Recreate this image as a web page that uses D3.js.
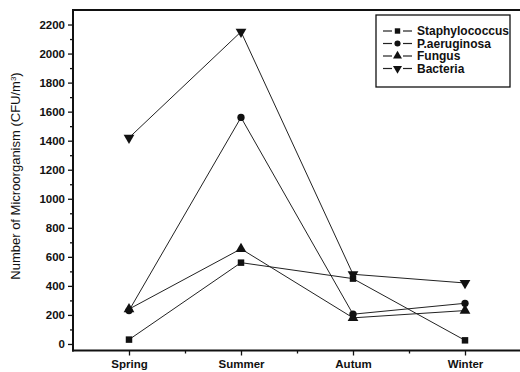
<!DOCTYPE html>
<html><head><meta charset="utf-8">
<script src="https://cdn.jsdelivr.net/npm/d3@7/dist/d3.min.js"></script>
<style>body{margin:0;background:#fff}svg{display:block}text{font-family:Arial,"Liberation Sans",sans-serif;fill:#111}</style>
</head><body><svg id="c" width="520" height="372"></svg>
<script>
const categories = ["Spring","Summer","Autum","Winter"];
const seriesNames = ["Staphylococcus","P.aeruginosa","Fungus","Bacteria"];
const staphylococcus = [30, 560, 450, 25];
const paeruginosa = [230, 1560, 205, 280];
const fungus = [240, 655, 180, 230];
const bacteria = [1420, 2150, 480, 420];
const yTicks = [0,200,400,600,800,1000,1200,1400,1600,1800,2000,2200];
const seriesValues = [staphylococcus, paeruginosa, fungus, bacteria];
const symbols = [d3.symbolSquare, d3.symbolCircle, d3.symbolTriangle, d3.symbolTriangle];
const symSize = [42, 42, 50, 50];
const rot = [0,0,0,180];

const svg = d3.select("#c");
const L=73, R=521, T=10, B=350.5;
const x = d3.scaleLinear().domain([-0.5,3.5]).range([L,R]);
const y = d3.scaleLinear().domain([-45,2300]).range([B,T]);

svg.append("line").attr("x1",L).attr("x2",520).attr("y1",T).attr("y2",T).attr("stroke","#111").attr("stroke-width",2);

const ya = svg.append("g").attr("transform",`translate(${L},0)`);
ya.call(d3.axisLeft(y).tickValues(yTicks).tickSize(5).tickPadding(3).tickFormat(d3.format("d")));
ya.append("g").call(d3.axisLeft(y).tickValues(d3.range(100,2300,200)).tickSize(3).tickFormat(""));
ya.selectAll(".domain").remove();
ya.append("line").attr("x1",0).attr("x2",0).attr("y1",T-1).attr("y2",B+1).attr("stroke","#111").attr("stroke-width",2);
ya.selectAll("line").attr("stroke","#111");
ya.selectAll(".tick line").attr("stroke-width",1.3);
ya.selectAll("text").style("font-size","11.5px").style("font-weight","bold").attr("fill","#222");

const xa = svg.append("g").attr("transform",`translate(0,${B})`);
xa.call(d3.axisBottom(x).tickValues([0,1,2,3]).tickSize(5).tickPadding(4).tickFormat(i=>categories[i]));
xa.append("g").call(d3.axisBottom(x).tickValues([0.5,1.5,2.5]).tickSize(3).tickFormat(""));
xa.selectAll(".domain").remove();
xa.append("line").attr("x1",L-1).attr("x2",520).attr("y1",0).attr("y2",0).attr("stroke","#111").attr("stroke-width",2);
xa.selectAll(".tick line").attr("stroke","#111").attr("stroke-width",1.3);
xa.selectAll("text").style("font-size","11.5px").style("font-weight","bold").attr("fill","#222");

svg.append("text").attr("transform","translate(20,176) rotate(-90)").attr("text-anchor","middle")
  .style("font-size","13px").attr("fill","#222")
  .html('Number of Microorganism (CFU/m<tspan baseline-shift="super" font-size="8px">3</tspan>)');

const line = d3.line().x((d,i)=>x(i)).y(d=>y(d));
seriesValues.forEach((vals,s)=>{
  svg.append("path").datum(vals).attr("d",line).attr("fill","none").attr("stroke","#222").attr("stroke-width",1);
});
seriesValues.forEach((vals,s)=>{
  svg.selectAll(null).data(vals).enter().append("path")
    .attr("d",d3.symbol().type(symbols[s]).size(symSize[s]))
    .attr("transform",(d,i)=>`translate(${x(i)},${y(d)}) rotate(${rot[s]})`)
    .attr("fill","#111");
});

const lg = svg.append("g").attr("transform","translate(376,15)");
lg.append("rect").attr("width",134).attr("height",72).attr("fill","#fff").attr("stroke","#111").attr("stroke-width",1.3);
seriesNames.forEach((n,i)=>{
  const yy = 16 + i*12.5;
  [[7,16],[27,36]].forEach(([a,b])=>lg.append("line").attr("x1",a).attr("x2",b).attr("y1",yy).attr("y2",yy).attr("stroke","#222").attr("stroke-width",1.2));
  lg.append("path").attr("d",d3.symbol().type(symbols[i]).size(symSize[i]*0.7)).attr("transform",`translate(21.5,${yy}) rotate(${rot[i]})`).attr("fill","#111");
  lg.append("text").attr("x",41).attr("y",yy+4).text(n).style("font-size","12px").style("font-weight","bold").attr("fill","#222");
});
</script></body></html>
